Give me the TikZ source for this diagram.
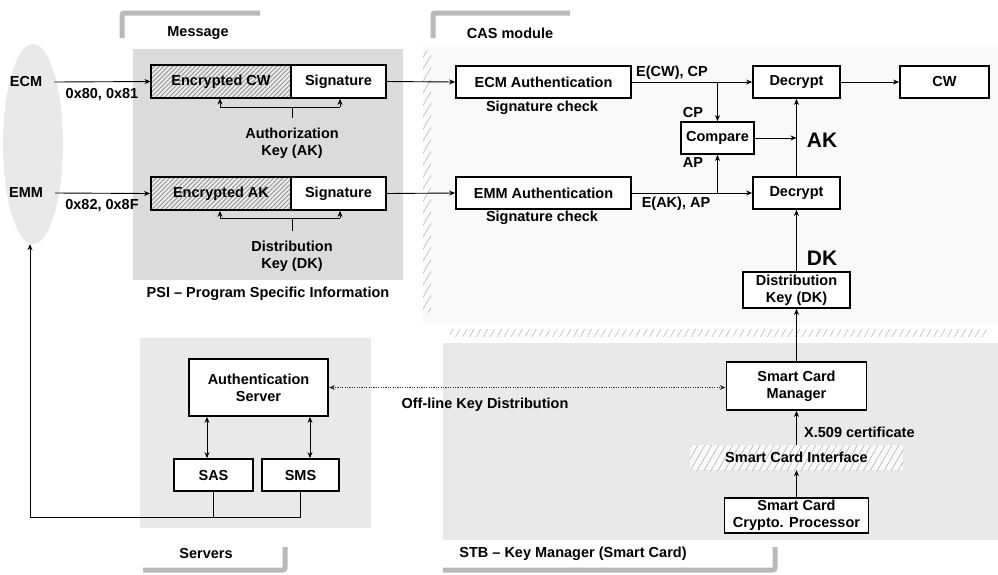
\documentclass[tikz,border=0pt]{standalone}
\usepackage{fontspec}
\setmainfont{Liberation Sans}
\usetikzlibrary{shapes.geometric,patterns.meta,arrows.meta,calc}
\begin{document}
\begin{tikzpicture}[x=1pt,y=-1pt,
  every node/.style={font=\fontsize{14.5}{17}\selectfont\bfseries, inner sep=0pt, align=center},
  box/.style={draw, line width=1.8pt, fill=white, minimum height=32pt},
  encbox/.style={draw, line width=1.8pt, minimum height=33pt, preaction={fill=gray!15},
    pattern={Lines[angle=45,distance=3.2pt,line width=0.9pt]}, pattern color=gray!85},
  iface/.style={preaction={fill=gray!4}, pattern={Lines[angle=60,distance=6pt,line width=0.6pt]}, pattern color=gray!60},
  arr/.style={-{Stealth[length=6pt,width=5pt]}, line width=0.9pt},
  dbl/.style={{Stealth[length=6pt,width=5pt]}-{Stealth[length=6pt,width=5pt]}, line width=0.9pt},
  ln/.style={line width=0.9pt},
  offl/.style={{Stealth[length=6pt,width=5pt]}-{Stealth[length=6pt,width=5pt]}, line width=0.9pt, dash pattern=on 1.2pt off 1.2pt, draw=black!80},
  bracketln/.style={line width=5pt, draw=gray!55, rounded corners=2pt},
  big/.style={font=\fontsize{21}{24}\selectfont\bfseries},
]
\useasboundingbox (0,0) rectangle (998,574);
% regions
\fill[gray!5] (423,45) rectangle (998,325);
\fill[pattern={Lines[angle=60,distance=6pt,line width=0.5pt]}, pattern color=gray!60] (423,50) rectangle (431,312);
\fill[gray!28] (133,49) rectangle (403,280);
\fill[gray!17] (140,338) rectangle (371,528);
\fill[gray!17] (443,343) rectangle (998,540);
\fill[pattern={Lines[angle=60,distance=6pt,line width=0.6pt]}, pattern color=gray!55] (450,329) rectangle (987,336);
\node[ellipse, fill=gray!17, minimum width=60pt, minimum height=200pt] (ell) at (33,144) {};
% brackets
\draw[bracketln] (122,38) -- (122,13) -- (260,13);
\draw[bracketln] (433,38) -- (433,13) -- (570,13);
\draw[bracketln] (143,570) -- (285,570) -- (285,547);
\draw[bracketln] (443,570) -- (775,570) -- (775,547);
% titles
\node (tmsg) at (198,33) {Message};
\node (tcas) at (510,33) {CAS module};
\node (tsrv) at (206,553) {Servers};
\node (tstb) at (573,554) {STB – Key Manager (Smart Card)};
\node (tpsi) at (268,294) {PSI – Program Specific Information};
% left
\node (ecm) at (26,82) {ECM};
\node (emm) at (26,193) {EMM};
\node (c80) at (102,95) {0x80, 0x81};
\node (c82) at (102,206) {0x82, 0x8F};
% message boxes
\node[encbox, minimum width=140pt] (enccw) at (221,81.5) {Encrypted CW};
\node[box, minimum width=95pt, minimum height=33pt] (sigcw) at (338.5,81.5) {Signature};
\node[encbox, minimum width=140pt] (encak) at (221,193.5) {Encrypted AK};
\node[box, minimum width=95pt, minimum height=33pt] (sigak) at (338.5,193.5) {Signature};
\draw[arr] ([xshift=12pt]ecm.east) -- (enccw.west);
\draw[arr] ([xshift=12pt]emm.east) -- (encak.west);
% AK bracket
\coordinate (akl) at (220,107); \coordinate (akr) at (340,107);
\coordinate (akm) at (292,107); \coordinate (akt) at (292,118);
\draw[ln] (akl) -- (akr); \draw[ln] (akm) -- (akt);
\draw[arr] (akl) -- (akl |- enccw.south);
\draw[arr] (akr) -- (akr |- sigcw.south);
\node (lak1) at (292,143) {Authorization\\Key (AK)};
% DK bracket
\coordinate (dkl) at (220,218); \coordinate (dkr) at (340,218);
\coordinate (dkm) at (292,218); \coordinate (dkt) at (292,231);
\draw[ln] (dkl) -- (dkr); \draw[ln] (dkm) -- (dkt);
\draw[arr] (dkl) -- (dkl |- encak.south);
\draw[arr] (dkr) -- (dkr |- sigak.south);
\node (ldk1) at (292,256) {Distribution\\Key (DK)};
% CAS module
\node[box, minimum width=175pt] (ecma) at (543.5,82) {ECM Authentication};
\node (sc1) at (542,108) {Signature check};
\node[box, minimum width=175pt] (emma) at (543.5,193) {EMM Authentication};
\node (sc2) at (542,218) {Signature check};
\draw[arr] (sigcw.east) -- (ecma.west);
\draw[arr] (sigak.east) -- (emma.west);
\node[box, minimum width=87pt] (dec1) at (796.5,82) {Decrypt};
\node[box, minimum width=87pt] (dec2) at (796.5,193) {Decrypt};
\node[box, minimum width=89pt] (cw) at (944.5,82) {CW};
\node[box, minimum width=73pt] (cmp) at (717.5,138) {Compare};
\coordinate (j1) at (717.5,82); \coordinate (j2) at (717.5,193);
\draw[arr] (ecma) -- (dec1);
\draw[arr] (emma) -- (dec2);
\draw[arr] (j1) -- (cmp.north);
\draw[arr] (j2) -- (cmp.south);
\draw[arr] (dec2) -- (dec1);
\draw[arr] (cmp) -- (cmp -| dec1);
\draw[arr] (dec1) -- (cw);
\node (lecw) at (672,73) {E(CW), CP};
\node (lcp) at (693,113) {CP};
\node (lap) at (693,163) {AP};
\node (leak) at (676,204) {E(AK), AP};
\node[big] (lak) at (822,140) {AK};
\node[big] (ldk) at (822,258) {DK};
\node[box, minimum width=107pt, minimum height=36pt] (dk) at (796.5,290) {Distribution\\Key (DK)};
\draw[arr] (dk) -- (dec2);
% STB
\node[box, minimum width=140pt, minimum height=48pt] (scm) at (796.5,386) {Smart Card\\Manager};
\draw[arr] (scm) -- (dk);
\node[iface, minimum width=213pt, minimum height=25pt] (ifc) at (796.5,457.5) {Smart Card Interface};
\draw[arr] (ifc.north) -- (scm.south);
\node[anchor=west] (x509) at (804,432) {X.509 certificate};
\node[box, minimum width=144pt, minimum height=35pt] (cry) at (796.5,515.5) {Smart Card\\Crypto. Processor};
\draw[arr] (cry) -- (ifc);
% servers
\node[box, minimum width=139pt, minimum height=57pt] (auth) at (258.5,387.5) {Authentication\\Server};
\node[box, minimum width=79pt] (sas) at (213.5,475) {SAS};
\node[box, minimum width=77pt] (sms) at (300.5,475) {SMS};
\draw[dbl] ([xshift=-6.5pt]sas.north) -- ([xshift=-6.5pt]sas.north |- auth.south);
\draw[dbl] ([xshift=9.5pt]sms.north) -- ([xshift=9.5pt]sms.north |- auth.south);
\draw[offl] (auth.east) -- (auth.east -| scm.west);
\node (off) at (485,405) {Off-line Key Distribution};
\coordinate (fb) at (30,517);
\draw[ln] (sas.south) -- (sas.south |- fb);
\draw[arr] (sms.south) -- (sms.south |- fb) -- (fb) -- (fb |- ell.south);
\end{tikzpicture}
\end{document}
